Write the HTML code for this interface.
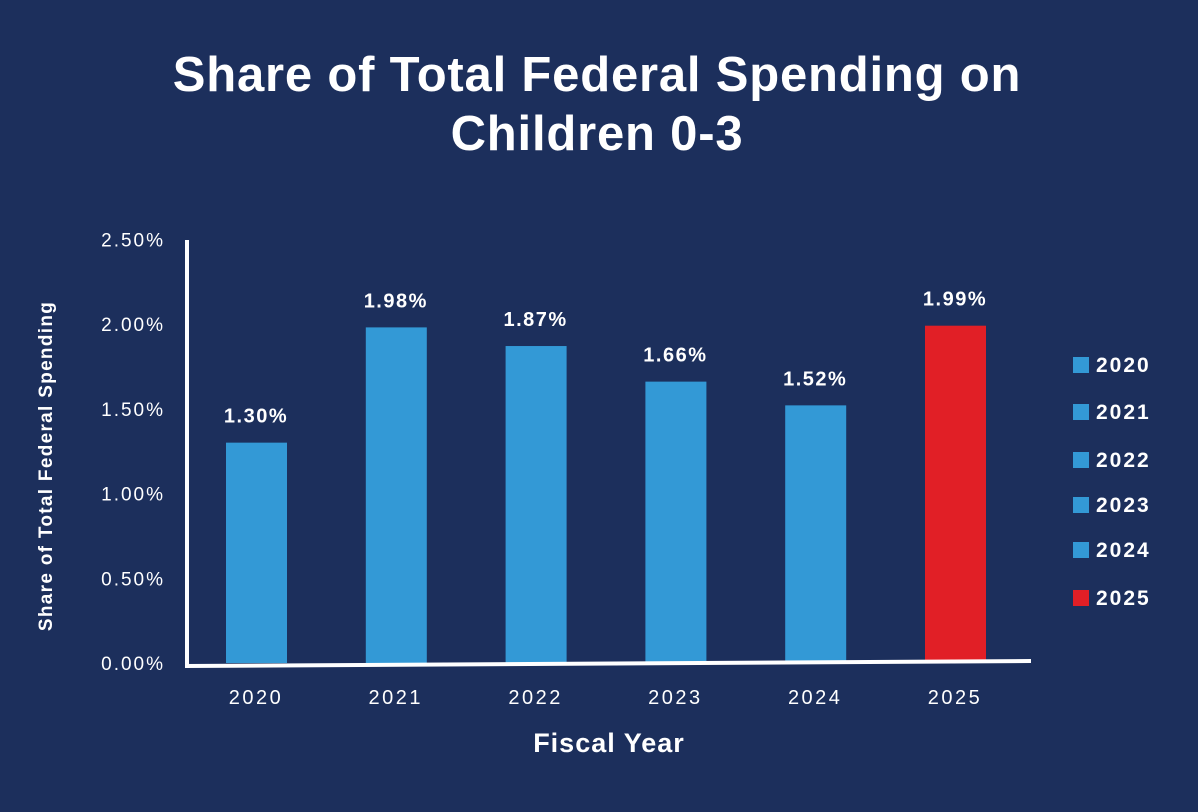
<!DOCTYPE html>
<html><head><meta charset="utf-8"><style>
html,body{margin:0;padding:0;background:#1c2f5c;}
svg{display:block;font-family:"Liberation Sans",sans-serif;}
</style></head><body>
<svg id="chart" width="1198" height="812" viewBox="0 0 1198 812">
<rect width="1198" height="812" fill="#1c2f5c"/>
<text x="597" y="91" text-anchor="middle" fill="#fff" font-size="49" font-weight="bold" letter-spacing="0.8">Share of Total Federal Spending on</text>
<text x="597" y="150" text-anchor="middle" fill="#fff" font-size="49" font-weight="bold" letter-spacing="0.8">Children 0-3</text>
<text transform="translate(52,466) rotate(-90)" text-anchor="middle" fill="#fff" font-size="19" font-weight="bold" letter-spacing="1.3">Share of Total Federal Spending</text>
<text x="609" y="752" text-anchor="middle" fill="#fff" font-size="27" font-weight="bold" letter-spacing="1">Fiscal Year</text>
<g id="plot"></g>
</svg>
<script>
const categories=["2020","2021","2022","2023","2024","2025"];
const values=[1.30,1.98,1.87,1.66,1.52,1.99];
const valueLabels=["1.30%","1.98%","1.87%","1.66%","1.52%","1.99%"];
const yTicks=[0,0.5,1,1.5,2,2.5];
const yTickLabels=["0.00%","0.50%","1.00%","1.50%","2.00%","2.50%"];
const colors=["#3399d6","#3399d6","#3399d6","#3399d6","#3399d6","#e11f26"];
const NS="http://www.w3.org/2000/svg";
const g=document.getElementById('plot');
function y(v){return 663-v*169.5;}
function x(i){return 256+i*139.8;}
function mk(t,a,txt){const e=document.createElementNS(NS,t);for(const k in a)e.setAttribute(k,a[k]);if(txt!==undefined)e.textContent=txt;g.appendChild(e);return e;}
yTicks.forEach((t,i)=>{
 const e=mk('text',{x:165,y:y(t)+7,'text-anchor':'end',fill:'#fff','font-size':19,'letter-spacing':2},yTickLabels[i]);
 
 
});
categories.forEach((c,i)=>{
 const r=mk('rect',{x:x(i)-30,y:y(values[i]),width:61,height:663-y(values[i]),fill:colors[i]});
 
 
 const l=mk('text',{x:x(i),y:y(values[i])-20,'text-anchor':'middle',fill:'#fff','font-size':20,'font-weight':'bold','letter-spacing':1.5},valueLabels[i]);
 
 
 const t=mk('text',{x:x(i),y:704,'text-anchor':'middle',fill:'#fff','font-size':20,'letter-spacing':2.5},c);
 
 
 const ly=[365,412,460,505,550,598][i];
 const s=mk('rect',{x:1073,y:ly-8,width:16,height:16,fill:colors[i]});
 
 
 const lt=mk('text',{x:1096,y:ly+7,fill:'#fff','font-size':21,'font-weight':'bold','letter-spacing':2},c);
 
 
});
const ya=mk('line',{x1:187,y1:240,x2:187,y2:668,stroke:'#fff','stroke-width':4});


const xa=mk('line',{x1:185,y1:666,x2:1031,y2:661,stroke:'#fff','stroke-width':4});


</script>
</body></html>
